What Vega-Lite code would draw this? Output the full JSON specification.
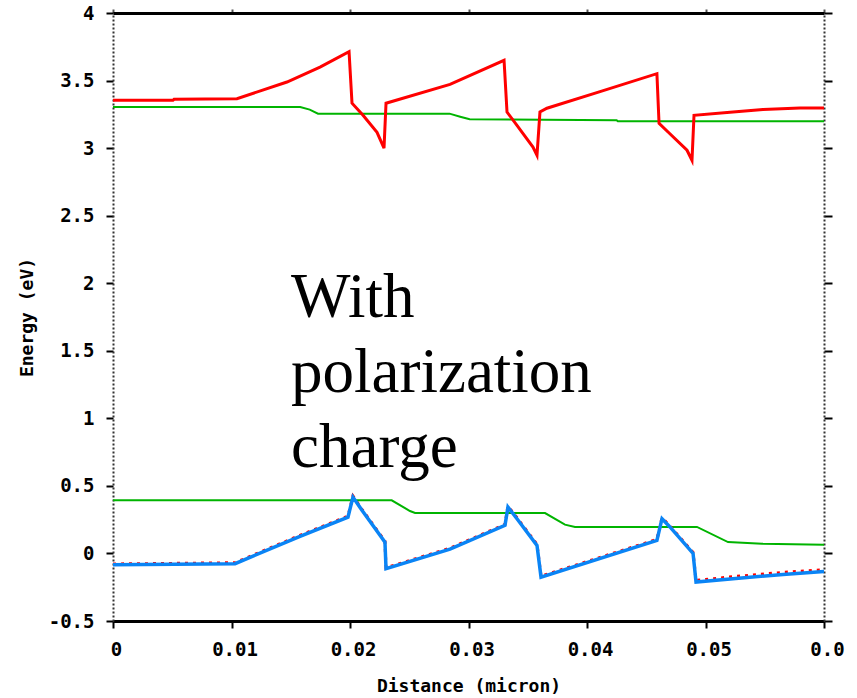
{
  "$schema": "https://vega.github.io/schema/vega-lite/v6.json",
  "width": 711,
  "height": 608,
  "autosize": {"type": "none"},
  "padding": {"left": 113, "top": 13, "right": 33, "bottom": 77},
  "background": "white",
  "config": {
    "view": {"stroke": null},
    "axis": {
      "grid": false,
      "labelFont": "DejaVu Sans Mono",
      "labelFontWeight": "bold",
      "labelFontSize": 19,
      "labelColor": "#000000",
      "titleFont": "DejaVu Sans Mono",
      "titleFontWeight": "bold",
      "titleFontSize": 18,
      "titleColor": "#000000",
      "tickColor": "#000000",
      "domainColor": "#000000"
    }
  },
  "data": {
    "values": [
      {"curve": "Ec", "x": 0, "energy": 3.354},
      {"curve": "Ec", "x": 0.00506, "energy": 3.354},
      {"curve": "Ec", "x": 0.00515, "energy": 3.361},
      {"curve": "Ec", "x": 0.01046, "energy": 3.366},
      {"curve": "Ec", "x": 0.01468, "energy": 3.489},
      {"curve": "Ec", "x": 0.01747, "energy": 3.6},
      {"curve": "Ec", "x": 0.01992, "energy": 3.713},
      {"curve": "Ec", "x": 0.02017, "energy": 3.332},
      {"curve": "Ec", "x": 0.0211, "energy": 3.243},
      {"curve": "Ec", "x": 0.02228, "energy": 3.117},
      {"curve": "Ec", "x": 0.02287, "energy": 3.0},
      {"curve": "Ec", "x": 0.02304, "energy": 3.332},
      {"curve": "Ec", "x": 0.02844, "energy": 3.472},
      {"curve": "Ec", "x": 0.033, "energy": 3.65},
      {"curve": "Ec", "x": 0.03325, "energy": 3.267},
      {"curve": "Ec", "x": 0.03409, "energy": 3.169},
      {"curve": "Ec", "x": 0.03544, "energy": 3.008},
      {"curve": "Ec", "x": 0.03578, "energy": 2.947},
      {"curve": "Ec", "x": 0.03603, "energy": 3.267},
      {"curve": "Ec", "x": 0.03662, "energy": 3.295},
      {"curve": "Ec", "x": 0.0411, "energy": 3.418},
      {"curve": "Ec", "x": 0.0459, "energy": 3.551},
      {"curve": "Ec", "x": 0.04608, "energy": 3.184},
      {"curve": "Ec", "x": 0.04684, "energy": 3.119},
      {"curve": "Ec", "x": 0.04844, "energy": 2.984},
      {"curve": "Ec", "x": 0.04886, "energy": 2.91},
      {"curve": "Ec", "x": 0.04903, "energy": 3.243},
      {"curve": "Ec", "x": 0.05232, "energy": 3.267},
      {"curve": "Ec", "x": 0.05485, "energy": 3.285},
      {"curve": "Ec", "x": 0.05797, "energy": 3.297},
      {"curve": "Ec", "x": 0.06, "energy": 3.297},

      {"curve": "Ec_ref", "x": 0, "energy": 3.304},
      {"curve": "Ec_ref", "x": 0.0158, "energy": 3.304},
      {"curve": "Ec_ref", "x": 0.0166, "energy": 3.285},
      {"curve": "Ec_ref", "x": 0.0173, "energy": 3.255},
      {"curve": "Ec_ref", "x": 0.0284, "energy": 3.255},
      {"curve": "Ec_ref", "x": 0.0293, "energy": 3.232},
      {"curve": "Ec_ref", "x": 0.0301, "energy": 3.213},
      {"curve": "Ec_ref", "x": 0.0425, "energy": 3.206},
      {"curve": "Ec_ref", "x": 0.0426, "energy": 3.198},
      {"curve": "Ec_ref", "x": 0.06, "energy": 3.198},

      {"curve": "Ev_ref", "x": 0, "energy": 0.393},
      {"curve": "Ev_ref", "x": 0.02352, "energy": 0.393},
      {"curve": "Ev_ref", "x": 0.02506, "energy": 0.314},
      {"curve": "Ev_ref", "x": 0.02549, "energy": 0.299},
      {"curve": "Ev_ref", "x": 0.03646, "energy": 0.299},
      {"curve": "Ev_ref", "x": 0.03814, "energy": 0.213},
      {"curve": "Ev_ref", "x": 0.03899, "energy": 0.196},
      {"curve": "Ev_ref", "x": 0.04928, "energy": 0.196},
      {"curve": "Ev_ref", "x": 0.0519, "energy": 0.084},
      {"curve": "Ev_ref", "x": 0.05477, "energy": 0.072},
      {"curve": "Ev_ref", "x": 0.06, "energy": 0.065},

      {"curve": "Ev_red", "x": 0, "energy": -0.078},
      {"curve": "Ev_red", "x": 0.0103, "energy": -0.069},
      {"curve": "Ev_red", "x": 0.01578, "energy": 0.134},
      {"curve": "Ev_red", "x": 0.01983, "energy": 0.276},
      {"curve": "Ev_red", "x": 0.02025, "energy": 0.425},
      {"curve": "Ev_red", "x": 0.02101, "energy": 0.326},
      {"curve": "Ev_red", "x": 0.02253, "energy": 0.141},
      {"curve": "Ev_red", "x": 0.02295, "energy": 0.091},
      {"curve": "Ev_red", "x": 0.02304, "energy": -0.106},
      {"curve": "Ev_red", "x": 0.02844, "energy": 0.039},
      {"curve": "Ev_red", "x": 0.03308, "energy": 0.215},
      {"curve": "Ev_red", "x": 0.03333, "energy": 0.35},
      {"curve": "Ev_red", "x": 0.03409, "energy": 0.264},
      {"curve": "Ev_red", "x": 0.03578, "energy": 0.067},
      {"curve": "Ev_red", "x": 0.03612, "energy": -0.168},
      {"curve": "Ev_red", "x": 0.0459, "energy": 0.104},
      {"curve": "Ev_red", "x": 0.04633, "energy": 0.264},
      {"curve": "Ev_red", "x": 0.047, "energy": 0.203},
      {"curve": "Ev_red", "x": 0.04895, "energy": 0.007},
      {"curve": "Ev_red", "x": 0.0492, "energy": -0.2},
      {"curve": "Ev_red", "x": 0.05232, "energy": -0.172},
      {"curve": "Ev_red", "x": 0.05654, "energy": -0.14},
      {"curve": "Ev_red", "x": 0.06, "energy": -0.12},

      {"curve": "Ev", "x": 0, "energy": -0.083},
      {"curve": "Ev", "x": 0.0103, "energy": -0.076},
      {"curve": "Ev", "x": 0.01578, "energy": 0.127},
      {"curve": "Ev", "x": 0.01983, "energy": 0.269},
      {"curve": "Ev", "x": 0.02025, "energy": 0.417},
      {"curve": "Ev", "x": 0.02101, "energy": 0.319},
      {"curve": "Ev", "x": 0.02253, "energy": 0.134},
      {"curve": "Ev", "x": 0.02295, "energy": 0.084},
      {"curve": "Ev", "x": 0.02304, "energy": -0.113},
      {"curve": "Ev", "x": 0.02844, "energy": 0.032},
      {"curve": "Ev", "x": 0.03308, "energy": 0.208},
      {"curve": "Ev", "x": 0.03333, "energy": 0.343},
      {"curve": "Ev", "x": 0.03409, "energy": 0.257},
      {"curve": "Ev", "x": 0.03578, "energy": 0.06},
      {"curve": "Ev", "x": 0.03612, "energy": -0.175},
      {"curve": "Ev", "x": 0.0459, "energy": 0.097},
      {"curve": "Ev", "x": 0.04633, "energy": 0.257},
      {"curve": "Ev", "x": 0.047, "energy": 0.196},
      {"curve": "Ev", "x": 0.04895, "energy": 0.0},
      {"curve": "Ev", "x": 0.0492, "energy": -0.212},
      {"curve": "Ev", "x": 0.05232, "energy": -0.187},
      {"curve": "Ev", "x": 0.05654, "energy": -0.155},
      {"curve": "Ev", "x": 0.06, "energy": -0.133}
    ]
  },
  "layer": [
    {
      "transform": [{"filter": "datum.curve == 'Ec_ref' || datum.curve == 'Ev_ref'"}],
      "mark": {"type": "line", "color": "#00b400", "strokeWidth": 2, "clip": true},
      "encoding": {
        "x": {
          "field": "x", "type": "quantitative",
          "scale": {"domain": [0, 0.06], "nice": false, "zero": false},
          "axis": {
            "orient": "bottom",
            "title": "Distance (micron)",
            "values": [0, 0.01, 0.02, 0.03, 0.04, 0.05, 0.06],
            "labelExpr": "abs(datum.value - 0.06) < 0.0001 ? '0.0' : '' + datum.value",
            "labelPadding": 12,
            "labelOffset": 3,
            "labelFlush": false,
            "labelOverlap": false,
            "tickSize": 7,
            "tickWidth": 2,
            "domainWidth": 3,
            "titlePadding": 18
          }
        },
        "y": {
          "field": "energy", "type": "quantitative",
          "scale": {"domain": [-0.5, 4], "nice": false, "zero": false},
          "axis": {
            "orient": "left",
            "title": "Energy (eV)",
            "values": [-0.5, 0, 0.5, 1, 1.5, 2, 2.5, 3, 3.5, 4],
            "labelExpr": "'' + datum.value",
            "labelPadding": 12,
            "labelFlush": false,
            "labelOverlap": false,
            "tickSize": 7,
            "tickWidth": 2,
            "domainWidth": 2,
            "domainDash": [2, 2],
            "domainColor": "#333333",
            "titlePadding": 12
          }
        },
        "detail": {"field": "curve"}
      }
    },
    {
      "transform": [{"filter": "datum.curve == 'Ec'"}],
      "mark": {"type": "line", "color": "#ff0000", "strokeWidth": 3, "clip": true},
      "encoding": {
        "x": {
          "field": "x", "type": "quantitative",
          "axis": {
            "orient": "top", "title": null, "labels": false,
            "values": [0, 0.01, 0.02, 0.03, 0.04, 0.05, 0.06],
            "tickSize": 4, "tickWidth": 2, "tickColor": "#555555", "domainWidth": 3
          }
        },
        "y": {
          "field": "energy", "type": "quantitative",
          "axis": {
            "orient": "right", "title": null, "labels": false,
            "values": [-0.5, 0, 0.5, 1, 1.5, 2, 2.5, 3, 3.5, 4],
            "tickSize": 8, "tickWidth": 2,
            "domainWidth": 2, "domainDash": [2, 2], "domainColor": "#333333"
          }
        }
      }
    },
    {
      "transform": [{"filter": "datum.curve == 'Ev_red'"}],
      "mark": {"type": "line", "color": "#ff0000", "strokeWidth": 3, "strokeDash": [3, 5], "clip": true},
      "encoding": {
        "x": {"field": "x", "type": "quantitative", "axis": null},
        "y": {"field": "energy", "type": "quantitative", "axis": null}
      }
    },
    {
      "transform": [{"filter": "datum.curve == 'Ev'"}],
      "mark": {"type": "line", "color": "#0a84f5", "strokeWidth": 3.5, "clip": true},
      "encoding": {
        "x": {"field": "x", "type": "quantitative", "axis": null},
        "y": {"field": "energy", "type": "quantitative", "axis": null}
      }
    },
    {
      "data": {"values": [{"note": "With polarization charge"}]},
      "mark": {
        "type": "text",
        "text": ["With", "polarization", "charge"],
        "font": "Liberation Serif",
        "fontSize": 63,
        "lineHeight": 75,
        "align": "left",
        "baseline": "alphabetic",
        "color": "#000000"
      },
      "encoding": {
        "x": {"datum": 0.01502, "type": "quantitative", "axis": null},
        "y": {"datum": 1.748, "type": "quantitative", "axis": null}
      }
    }
  ],
  "resolve": {"axis": {"x": "independent", "y": "independent"}}
}
